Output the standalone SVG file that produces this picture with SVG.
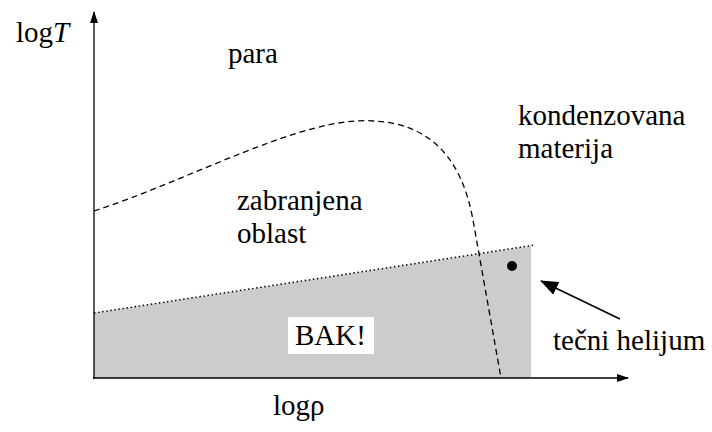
<svg xmlns="http://www.w3.org/2000/svg" width="712" height="432" viewBox="0 0 712 432">
  <style>
    .lbl { font-family: "Liberation Serif", "Times New Roman", serif; font-size: 29px; fill: #000; }
    .axis { stroke: #000; stroke-width: 1.3; fill: none; }
  </style>
  <defs>
    <marker id="tip" markerWidth="12" markerHeight="8" refX="11" refY="4" orient="auto" markerUnits="userSpaceOnUse">
      <path d="M0,0 L12,4 L0,8 Z" fill="#000"/>
    </marker>
    <marker id="bigtip" markerWidth="18" markerHeight="14" refX="17" refY="7" orient="auto" markerUnits="userSpaceOnUse">
      <path d="M0,0 L18,7 L0,14 Z" fill="#000"/>
    </marker>
  </defs>
  <rect width="712" height="432" fill="#fff"/>

  <!-- liquid helium region -->
  <g id="region">
    <polygon points="94,313 531,246 531,378 94,378" fill="#cccccc"/>
    <line x1="94" y1="313" x2="535" y2="245" stroke="#000" stroke-width="1.5" stroke-dasharray="1.5,2.6"/>
  </g>

  <g id="connectors">
    <!-- axes -->
    <line class="axis" x1="94" y1="379" x2="94" y2="12" marker-end="url(#tip)"/>
    <line class="axis" x1="93" y1="378" x2="628" y2="378" marker-end="url(#tip)"/>
    <!-- boundary curve -->
    <path d="M94,211 C190,180 305,115 374,121 C432,124 462,160 473,220 L501,378" fill="none" stroke="#000" stroke-width="1.3" stroke-dasharray="6,4"/>
    <!-- pointer to liquid helium -->
    <line x1="620" y1="319" x2="541" y2="281" stroke="#000" stroke-width="1.5" marker-end="url(#bigtip)"/>
  </g>

  <g id="dot"><circle cx="512" cy="266" r="5" fill="#000"/></g>

  <g id="bak">
    <rect x="288" y="317" width="86" height="37" fill="#fff"/>
    <text class="lbl" x="295" y="345">BAK!</text>
  </g>

  <g id="labels">
    <text class="lbl" x="16" y="42">log<tspan font-style="italic">T</tspan></text>
    <text class="lbl" x="273" y="415">logρ</text>
    <text class="lbl" x="228" y="63">para</text>
    <text class="lbl" x="518" y="125">kondenzovana</text>
    <text class="lbl" x="518" y="158">materija</text>
    <text class="lbl" x="237" y="210">zabranjena</text>
    <text class="lbl" x="237" y="243">oblast</text>
    <text class="lbl" x="553" y="350">tečni helijum</text>
  </g>
</svg>
